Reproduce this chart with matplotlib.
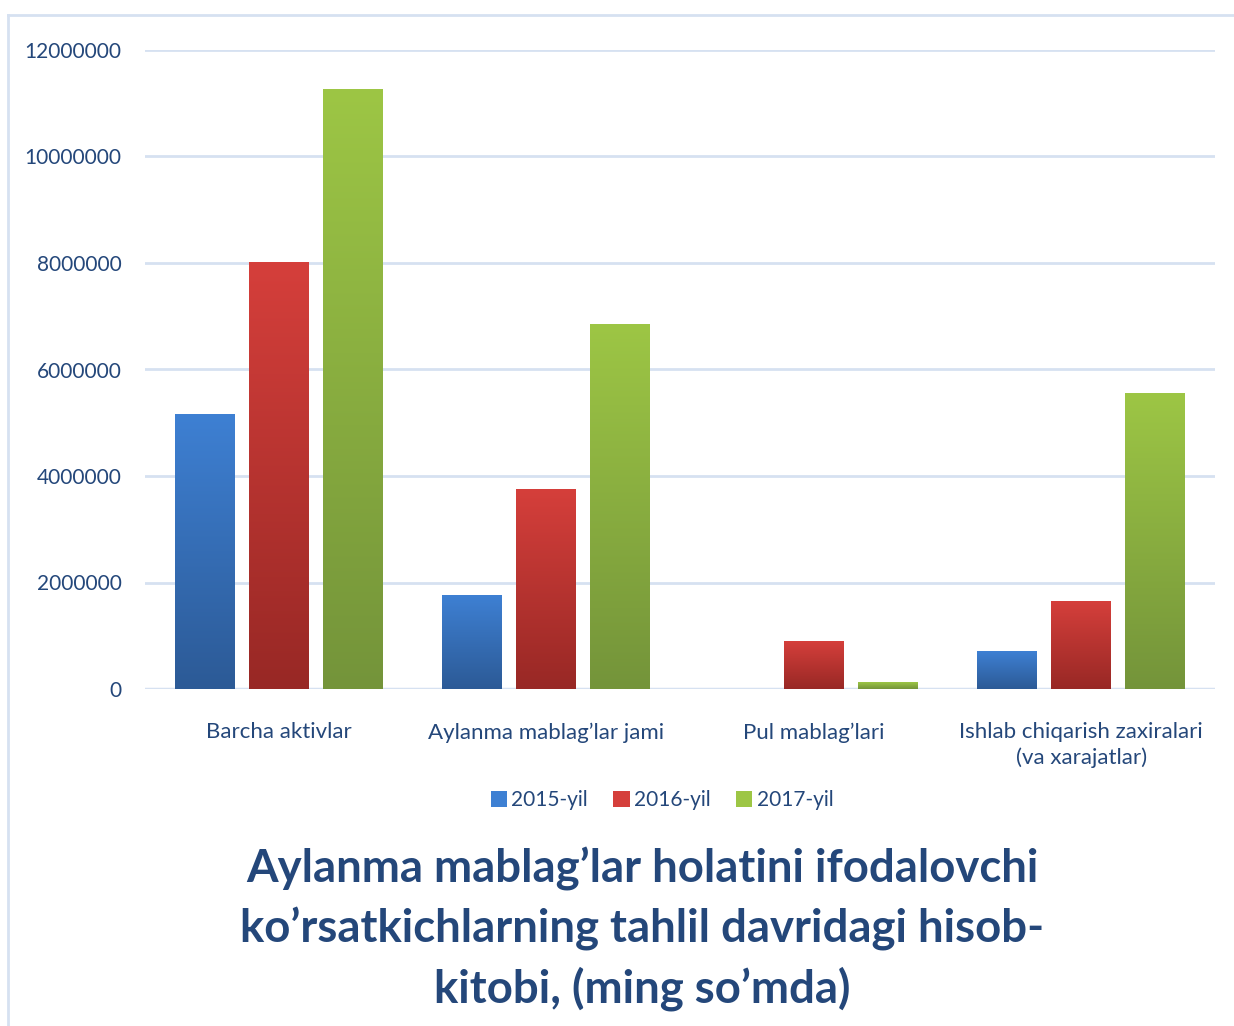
import numpy as np
import matplotlib.pyplot as plt
from matplotlib.colors import LinearSegmentedColormap
from matplotlib.patches import Patch
from matplotlib.lines import Line2D

plt.rcParams['font.family'] = ['Lato', 'DejaVu Sans']

# data (ming so'm)
categories = ["Barcha aktivlar", "Aylanma mablag\u2019lar jami", "Pul mablag\u2019lari",
              "Ishlab chiqarish zaxiralari\n(va xarajatlar)"]
years = ["2015-yil", "2016-yil", "2017-yil"]
v2015 = [5150000, 1750000, 0, 710000]
v2016 = [8000000, 3740000, 900000, 1650000]
v2017 = [11250000, 6840000, 130000, 5540000]
series = [v2015, v2016, v2017]

# gradient colours (top, bottom)
grads = [("#3E80D3", "#2C5A96"), ("#D53F3B", "#982825"), ("#9DC645", "#74943A")]
text_col = "#24477A"
grid_col = "#D6E1F1"

fig = plt.figure(figsize=(12.34, 10.26), dpi=100)
ax = fig.add_axes([145 / 1234, 1 - 689 / 1026, 1070 / 1234, 639 / 1026])

x = np.arange(len(categories))
width = 0.224
step = 0.277
grad = np.linspace(1, 0, 256).reshape(-1, 1)
for i, vals in enumerate(series):
    cmap = LinearSegmentedColormap.from_list("g%d" % i, [grads[i][1], grads[i][0]])
    for xi, v in zip(x, vals):
        if v <= 0:
            continue
        xc = xi + (i - 1) * step
        ax.imshow(grad, extent=[xc - width / 2, xc + width / 2, 0, v],
                  aspect='auto', cmap=cmap, zorder=3, interpolation='bilinear')

ax.set_xlim(-0.5, len(categories) - 0.5)
ax.set_ylim(0, 12000000)
ax.set_yticks(np.arange(0, 12000001, 2000000))
ax.set_yticklabels([str(t) for t in range(0, 12000001, 2000000)])
ax.yaxis.grid(True, color=grid_col, linewidth=2)
ax.set_axisbelow(True)
for s in ax.spines.values():
    s.set_visible(False)
ax.axhline(0, color=grid_col, linewidth=2.5, zorder=2)
ax.tick_params(axis='y', length=0, pad=17, labelsize=15, labelcolor=text_col)
ax.set_xticks(x)
ax.set_xticklabels(categories, fontsize=16, color=text_col, linespacing=1.3)
ax.tick_params(axis='x', length=0, pad=24)

handles = [Patch(facecolor=grads[i][0], edgecolor='none') for i in range(3)]
fig.legend(handles, years, loc='center', bbox_to_anchor=(662 / 1234, 1 - 800 / 1026),
           ncol=3, frameon=False, fontsize=15, labelcolor=text_col,
           handlelength=0.8, handleheight=0.8, handletextpad=0.2, columnspacing=1.2)

fig.text(642 / 1234, 1 - 929 / 1026,
         "Aylanma mablag\u2019lar holatini ifodalovchi\nko\u2019rsatkichlarning tahlil davridagi hisob-\nkitobi, (ming so\u2019mda)",
         ha='center', va='center', fontsize=32.8, fontweight='bold', color=text_col, linespacing=1.43)

# frame around the chart
fig.add_artist(Line2D([8 / 1234, 8 / 1234], [0, 1 - 15 / 1026], color=grid_col, linewidth=2,
                      transform=fig.transFigure))
fig.add_artist(Line2D([8 / 1234, 1], [1 - 15 / 1026, 1 - 15 / 1026], color=grid_col, linewidth=2,
                      transform=fig.transFigure))

fig.savefig("out.png", dpi=100)
